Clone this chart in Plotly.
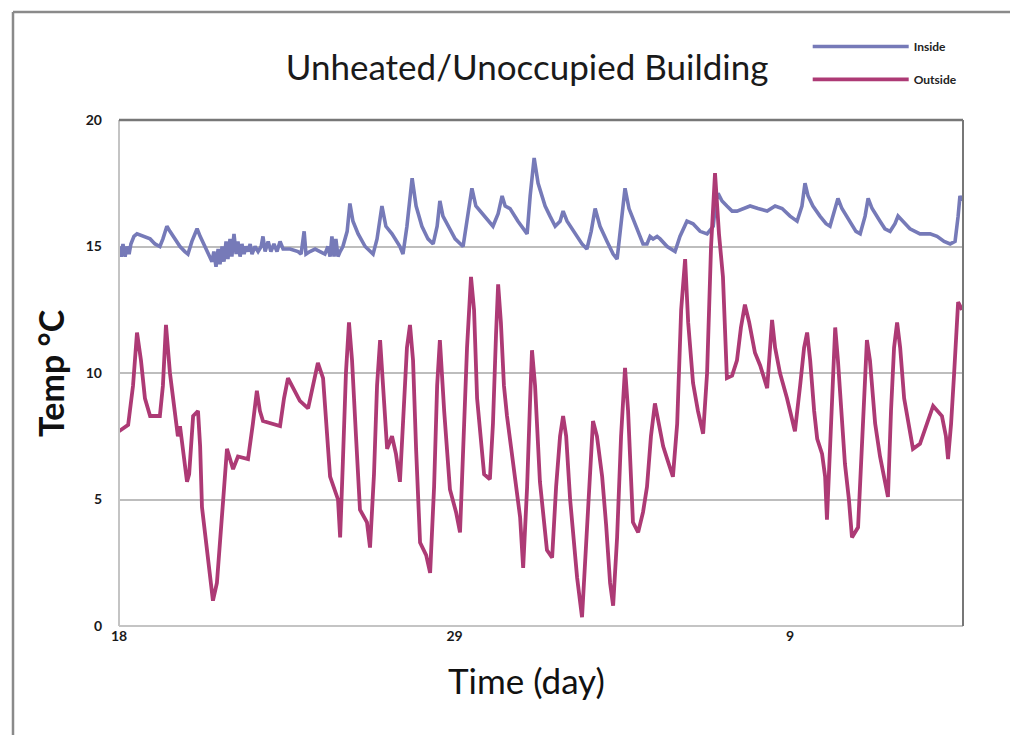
import plotly.graph_objects as go

# Time axis: days since the 18th (tick labels 18, 29, 9)
tick_days = [0, 11, 22]
tick_labels = ["18", "29", "9"]

outside_day = [0.00, 0.30, 0.46, 0.59, 0.72, 0.85, 1.02, 1.34, 1.44, 1.54, 1.67, 1.84, 1.93, 2.00, 2.10, 2.23,
               2.30, 2.43, 2.59, 2.66, 2.72, 2.89, 2.98, 3.08, 3.21, 3.31, 3.41, 3.54, 3.67, 3.74, 3.90, 4.23,
               4.39, 4.52, 4.62, 4.72, 5.28, 5.41, 5.54, 5.67, 5.93, 6.20, 6.36, 6.52, 6.69, 6.82, 6.92, 7.18,
               7.25, 7.34, 7.44, 7.54, 7.64, 7.77, 7.90, 8.13, 8.23, 8.36, 8.46, 8.56, 8.69, 8.79, 8.95, 9.08,
               9.21, 9.34, 9.44, 9.54, 9.64, 9.74, 9.87, 10.07, 10.20, 10.33, 10.43, 10.52, 10.66, 10.85, 11.05,
               11.18, 11.31, 11.41, 11.54, 11.64, 11.74, 11.84, 11.97, 12.16, 12.26, 12.36, 12.43, 12.52, 12.62,
               12.72, 12.92, 13.15, 13.25, 13.38, 13.48, 13.54, 13.64, 13.80, 14.03, 14.20, 14.33, 14.46, 14.56,
               14.66, 14.79, 14.92, 15.02, 15.18, 15.31, 15.44, 15.54, 15.67, 15.84, 15.97, 16.10, 16.20, 16.33,
               16.46, 16.59, 16.69, 16.85, 17.02, 17.18, 17.31, 17.44, 17.57, 17.70, 17.84, 18.00, 18.16, 18.30,
               18.43, 18.56, 18.66, 18.82, 18.98, 19.15, 19.28, 19.41, 19.54, 19.67, 19.80, 19.93, 20.10, 20.26,
               20.39, 20.52, 20.66, 20.85, 21.02, 21.25, 21.34, 21.41, 21.51, 21.67, 21.90, 22.16, 22.33, 22.46,
               22.56, 22.66, 22.79, 22.89, 23.05, 23.15, 23.21, 23.31, 23.41, 23.48, 23.57, 23.70, 23.80, 23.93,
               24.03, 24.23, 24.36, 24.46, 24.52, 24.62, 24.79, 24.95, 25.11, 25.21, 25.31, 25.41, 25.51, 25.61,
               25.74, 25.84, 26.03, 26.26, 26.49, 26.69, 26.98, 27.11, 27.18, 27.28, 27.38, 27.51, 27.64]
outside_temp = [7.7, 7.95, 9.5, 11.6, 10.5, 9.0, 8.3, 8.3, 9.5, 11.9, 10.0, 8.4, 7.5, 7.9, 7.0, 5.7,
                6.0, 8.3, 8.5, 7.1, 4.7, 3.0, 1.9, 1.0, 1.7, 3.5, 4.9, 7.0, 6.5, 6.2, 6.7, 6.6,
                8.0, 9.3, 8.5, 8.1, 7.9, 9.0, 9.8, 9.5, 8.9, 8.6, 9.5, 10.4, 9.8, 7.5, 5.9, 5.0,
                3.5, 6.5, 10.0, 12.0, 10.5, 7.5, 4.6, 4.1, 3.1, 6.0, 9.5, 11.3, 9.0, 7.0, 7.5, 6.8,
                5.7, 8.5, 11.0, 11.9, 10.5, 7.0, 3.3, 2.8, 2.1, 5.5, 9.5, 11.3, 8.5, 5.4, 4.5,
                3.7, 7.5, 11.0, 13.8, 12.5, 9.0, 7.5, 6.0, 5.8, 8.0, 11.5, 13.5, 12.0, 9.5,
                8.3, 6.4, 4.3, 2.3, 5.5, 9.0, 10.9, 9.5, 5.7, 3.0, 2.7, 5.5, 7.5, 8.3,
                7.5, 5.0, 3.0, 1.9, 0.35, 3.0, 6.0, 8.1, 7.5, 5.9, 4.0, 1.7, 0.8, 3.5,
                7.5, 10.2, 8.5, 4.1, 3.7, 4.5, 5.5, 7.5, 8.8, 8.0, 7.1, 6.5, 5.9, 8.0,
                12.5, 14.5, 12.0, 9.6, 8.5, 7.6, 10.0, 15.0, 17.9, 15.5, 13.8, 9.8, 9.9, 10.5,
                11.8, 12.7, 12.0, 10.8, 10.3, 9.4, 11.0, 12.1, 11.0, 10.0, 9.0, 7.7, 9.5, 11.0,
                11.6, 10.5, 8.5, 7.4, 6.8, 5.9, 4.2, 7.0, 10.0, 11.8, 10.5, 8.0, 6.4, 5.0,
                3.5, 3.9, 7.0, 10.0, 11.3, 10.5, 8.0, 6.7, 5.7, 5.1, 8.5, 11.0, 12.0, 11.0,
                9.0, 8.3, 7.0, 7.2, 8.0, 8.7, 8.3, 7.5, 6.6, 8.0, 10.0, 12.8, 12.5]

inside_day = [0.00, 0.07, 0.13, 0.20, 0.26, 0.33, 0.39, 0.49, 0.59, 0.79, 1.02, 1.18, 1.34, 1.44, 1.57, 1.67,
              1.84, 2.00, 2.16, 2.26, 2.39, 2.56, 2.66, 2.82, 2.98, 3.05, 3.11, 3.18, 3.25, 3.31, 3.38, 3.44,
              3.51, 3.57, 3.64, 3.70, 3.77, 3.84, 3.90, 3.97, 4.03, 4.10, 4.16, 4.23, 4.30, 4.36, 4.46, 4.56,
              4.66, 4.72, 4.79, 4.89, 4.98, 5.08, 5.18, 5.28, 5.38, 5.61, 5.87, 5.97, 6.07, 6.13, 6.26, 6.43,
              6.59, 6.75, 6.85, 6.92, 6.98, 7.05, 7.11, 7.18, 7.25, 7.34, 7.48, 7.57, 7.67, 7.84, 8.07, 8.33,
              8.46, 8.62, 8.75, 8.95, 9.21, 9.31, 9.44, 9.61, 9.74, 9.93, 10.13, 10.30, 10.43, 10.52, 10.62,
              10.79, 11.02, 11.28, 11.41, 11.57, 11.70, 11.97, 12.26, 12.43, 12.56, 12.66, 12.82, 13.08, 13.38,
              13.48, 13.61, 13.74, 13.97, 14.13, 14.30, 14.46, 14.56, 14.69, 14.95, 15.18, 15.34, 15.48, 15.61,
              15.77, 16.00, 16.20, 16.33, 16.46, 16.59, 16.72, 16.98, 17.18, 17.31, 17.41, 17.51, 17.64, 17.74,
              17.97, 18.23, 18.39, 18.62, 18.82, 19.05, 19.28, 19.48, 19.57, 19.64, 19.77, 19.93, 20.10, 20.26,
              20.46, 20.69, 20.95, 21.25, 21.51, 21.74, 22.00, 22.23, 22.39, 22.49, 22.59, 22.75, 22.98, 23.18,
              23.31, 23.44, 23.57, 23.70, 23.97, 24.16, 24.30, 24.46, 24.56, 24.69, 24.95, 25.11, 25.28, 25.44,
              25.54, 25.70, 25.93, 26.26, 26.59, 26.82, 27.05, 27.25, 27.41, 27.51, 27.57, 27.64]
inside_temp = [15.0, 14.6, 15.1, 14.6, 15.0, 14.7, 15.1, 15.4, 15.5, 15.4, 15.3, 15.1, 15.0, 15.3, 15.8, 15.6,
               15.3, 15.0, 14.8, 14.7, 15.2, 15.7, 15.4, 15.0, 14.6, 14.4, 14.8, 14.2, 14.9, 14.3, 15.0, 14.4,
               15.2, 14.5, 15.3, 14.6, 15.5, 14.7, 15.2, 14.6, 15.1, 14.7, 15.0, 14.8, 15.1, 14.7, 15.0, 14.8,
               15.0, 15.4, 14.8, 15.2, 14.8, 15.1, 14.8, 15.2, 14.9, 14.9, 14.8, 14.7, 15.6, 14.7, 14.8, 14.9,
               14.8, 14.7, 15.0, 14.6, 15.4, 14.6, 15.3, 14.6, 14.8, 15.0, 15.6, 16.7, 16.0, 15.5, 15.0, 14.7,
               15.3, 16.6, 15.8, 15.5, 15.0, 14.7, 15.8, 17.7, 16.6, 15.8, 15.3, 15.1, 15.8, 16.8, 16.2,
               15.8, 15.3, 15.0, 16.0, 17.3, 16.6, 16.2, 15.8, 16.3, 17.0, 16.6, 16.5, 16.0, 15.5,
               17.0, 18.5, 17.5, 16.6, 16.2, 15.8, 16.0, 16.4, 16.0, 15.5, 15.1, 14.9, 15.6, 16.5,
               15.8, 15.2, 14.7, 14.5, 15.8, 17.3, 16.5, 15.7, 15.1, 15.1, 15.4, 15.3, 15.4, 15.3,
               15.0, 14.8, 15.4, 16.0, 15.9, 15.6, 15.5, 15.8, 16.8, 17.1, 16.8, 16.6, 16.4, 16.4,
               16.5, 16.6, 16.5, 16.4, 16.6, 16.5, 16.2, 16.0, 16.6, 17.5, 17.0, 16.6, 16.2, 15.9,
               15.8, 16.4, 16.9, 16.5, 16.0, 15.6, 15.5, 16.2, 16.9, 16.5, 16.0, 15.7, 15.6, 15.9,
               16.2, 16.0, 15.7, 15.5, 15.5, 15.4, 15.2, 15.1, 15.2, 16.2, 17.0, 16.8]

INSIDE_COLOR = "#767ab8"
OUTSIDE_COLOR = "#ad3a75"
FONT = "Lato"

fig = go.Figure()
fig.add_trace(go.Scatter(x=inside_day, y=inside_temp, mode="lines", name="Inside",
                         legendgroup="in",
                         line=dict(color=INSIDE_COLOR, width=3.6)))
fig.add_trace(go.Scatter(x=outside_day, y=outside_temp, mode="lines", name="Outside",
                         legendgroup="out",
                         line=dict(color=OUTSIDE_COLOR, width=3.8)))

fig.update_layout(
    width=1002, height=727,
    margin=dict(l=111, r=47, t=112, b=109),
    paper_bgcolor="white", plot_bgcolor="white",
    font=dict(family=FONT, color="#222"),
    title=dict(text="Unheated/Unoccupied Building", x=0.518, xanchor="center",
               y=0.918, yanchor="middle", font=dict(size=35, family=FONT, color="#1a1a1a")),
    showlegend=True,
    legend=dict(x=0.816, y=1.174, xanchor="left", yanchor="top", itemwidth=96,
                font=dict(size=12, family=FONT, color="#222", weight="bold"), tracegroupgap=14,
                bgcolor="rgba(0,0,0,0)"),
    xaxis=dict(range=[0, 27.67], tickvals=tick_days, ticktext=tick_labels,
               showgrid=False, zeroline=False, showline=False, ticks="",
               tickfont=dict(size=14, family=FONT, color="#1a1a1a", weight="bold")),
    yaxis=dict(range=[0, 20], tickvals=[0, 5, 10, 15, 20], showgrid=True, gridcolor="#bdbdbd",
               gridwidth=1.5, zeroline=False, showline=False, ticks="", ticklabelstandoff=16,
               tickfont=dict(size=14, family=FONT, color="#1a1a1a", weight="bold")),
    annotations=[
        dict(text="Temp °C", xref="paper", yref="paper", x=-0.0818, y=0.5, textangle=-90,
             showarrow=False, xanchor="center", yanchor="middle",
             font=dict(size=34, family=FONT, color="#111", weight="bold")),
        dict(text="Time (day)", xref="paper", yref="paper", x=0.483, y=-0.107,
             showarrow=False, xanchor="center", yanchor="middle",
             font=dict(size=35, family=FONT, color="#111")),
    ],
    shapes=[
        # outer picture frame: only top and left edges are visible
        dict(type="line", xref="paper", yref="paper", x0=-0.1256, x1=1.2, y0=1.2134, y1=1.2134,
             line=dict(color="#8a8a8a", width=2.5), layer="below"),
        dict(type="line", xref="paper", yref="paper", x0=-0.1256, x1=-0.1256, y0=-0.4, y1=1.2134,
             line=dict(color="#8a8a8a", width=2.5), layer="below"),
        # plot area borders
        dict(type="line", xref="paper", yref="paper", x0=0, x1=0, y0=0, y1=1,
             line=dict(color="#c4c4c4", width=2)),
        dict(type="line", xref="paper", yref="paper", x0=0, x1=1, y0=0, y1=0,
             line=dict(color="#c4c4c4", width=2)),
        dict(type="line", xref="paper", yref="paper", x0=0, x1=1, y0=1, y1=1,
             line=dict(color="#777777", width=2.5)),
        dict(type="line", xref="paper", yref="paper", x0=1, x1=1, y0=0, y1=1,
             line=dict(color="#777777", width=2)),
    ],
)

fig.write_html("out.html")
